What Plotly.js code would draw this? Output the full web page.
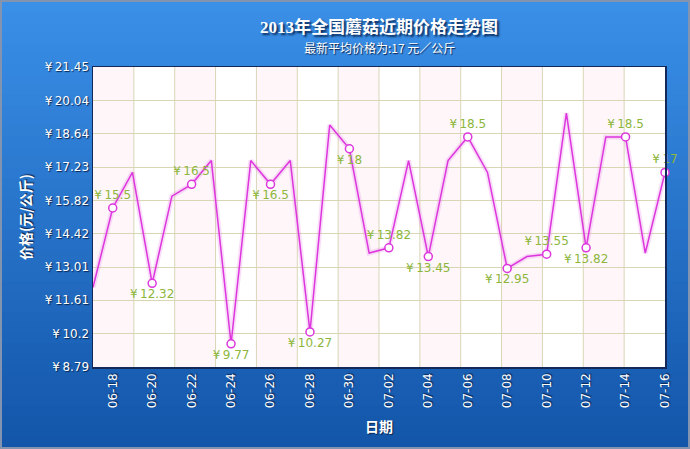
<!DOCTYPE html>
<html>
<head>
<meta charset="utf-8">
<script src="https://cdn.plot.ly/plotly-3.0.1.min.js"></script>
<style>
  body { margin: 0; padding: 0; }
  #graph { width: 690px; height: 449px; }
</style>
</head>
<body>
<div id="graph"></div>
<script>
var dates = ['06-17', '06-18', '06-19', '06-20', '06-21', '06-22', '06-23', '06-24', '06-25', '06-26',
             '06-27', '06-28', '06-29', '06-30', '07-01', '07-02', '07-03', '07-04', '07-05', '07-06',
             '07-07', '07-08', '07-09', '07-10', '07-11', '07-12', '07-13', '07-14', '07-15', '07-16'];
var prices = [12.15, 15.5, 17, 12.32, 16, 16.5, 17.5, 9.77, 17.5, 16.5,
              17.5, 10.27, 19, 18, 13.6, 13.82, 17.5, 13.45, 17.5, 18.5,
              17, 12.95, 13.45, 13.55, 19.5, 13.82, 18.5, 18.5, 13.6, 17];

// dates that get a marker, label and x tick
var labelDates = ['06-18', '06-20', '06-22', '06-24', '06-26', '06-28', '06-30', '07-02',
                  '07-04', '07-06', '07-08', '07-10', '07-12', '07-14', '07-16'];
var labelPos = ['top', 'bottom', 'top', 'bottom', 'bottom', 'bottom', 'bottom', 'top',
                'bottom', 'top', 'bottom', 'top', 'bottom', 'top', 'top'];

var yTicks = [8.79, 10.2, 11.61, 13.01, 14.42, 15.82, 17.23, 18.64, 20.04, 21.45];

var lineColor = '#dc36dc';
var labelColor = '#8db63c';
var shadow = '1px 1px 1px #0b2550';

var labelPrices = labelDates.map(function (d) { return prices[dates.indexOf(d)]; });

var glow = {
  x: dates, y: prices,
  mode: 'lines', type: 'scatter',
  line: { color: 'rgba(235,140,235,0.3)', width: 5 },
  hoverinfo: 'skip', showlegend: false
};

var line = {
  x: dates, y: prices,
  mode: 'lines', type: 'scatter',
  line: { color: lineColor, width: 1.5 },
  showlegend: false
};

var points = {
  x: labelDates, y: labelPrices,
  mode: 'markers+text', type: 'scatter',
  marker: { size: 8, color: '#ffffff', line: { color: lineColor, width: 1.5 } },
  text: labelPrices.map(function (v) { return '¥\u2009' + v; }),
  textposition: labelPos.map(function (p) { return p + ' center'; }),
  textfont: { family: 'DejaVu Sans', size: 12, color: labelColor },
  cliponaxis: false,
  showlegend: false
};

// blue background gradient, white plot area, faint pink columns, vertical grid
var shapes = [];
var strips = 45;
var stripH = 1.55 / strips;
for (var i = 0; i < strips; i++) {
  var f = i / (strips - 1);
  var r = Math.round(0x3b + (0x12 - 0x3b) * f);
  var g = Math.round(0x90 + (0x55 - 0x90) * f);
  var b = Math.round(0xe8 + (0xa9 - 0xe8) * f);
  var stripTop = 1.25 - i * stripH;
  shapes.push({
    type: 'rect', xref: 'paper', yref: 'paper', layer: 'below',
    x0: -0.2, x1: 1.1, y0: stripTop - stripH - 0.005, y1: stripTop,
    fillcolor: 'rgb(' + r + ',' + g + ',' + b + ')', line: { width: 0 }
  });
}
shapes.push({
  type: 'rect', xref: 'paper', yref: 'paper', layer: 'below',
  x0: 0, x1: 1, y0: 0, y1: 1, fillcolor: '#ffffff', line: { width: 0 }
});
var cols = 14;
for (var k = 0; k < cols; k += 2) {
  shapes.push({
    type: 'rect', xref: 'paper', yref: 'paper', layer: 'below',
    x0: k / cols, x1: (k + 1) / cols, y0: 0, y1: 1,
    fillcolor: '#fef6f9', line: { width: 0 }
  });
}
for (var k = 1; k < cols; k++) {
  shapes.push({
    type: 'line', xref: 'paper', yref: 'paper', layer: 'below',
    x0: k / cols, x1: k / cols, y0: 0, y1: 1,
    line: { color: '#d9d6b6', width: 1 }
  });
}
// outer frame
shapes.push({
  type: 'rect', xref: 'paper', yref: 'paper', layer: 'above',
  x0: -92 / 572, x1: 1 + 24 / 572, y0: -81 / 300, y1: 1 + 66 / 300,
  line: { color: '#8294b0', width: 2 }
});

var layout = {
  width: 690,
  height: 449,
  autosize: false,
  margin: { l: 93, r: 25, t: 67, b: 82, pad: 0 },
  paper_bgcolor: '#2a78d2',
  plot_bgcolor: 'rgba(0,0,0,0)',
  title: {
    text: '<b>2013年全国蘑菇近期价格走势图</b>',
    font: { family: 'Liberation Serif, Noto Sans CJK SC', size: 17, color: '#ffffff', shadow: '2px 2px 2px #0a2a5a' },
    xref: 'paper', x: 0.5, xanchor: 'center',
    yref: 'container', y: 1 - 27 / 449, yanchor: 'middle'
  },
  annotations: [{
    text: '最新平均价格为:17 元／公斤',
    xref: 'paper', yref: 'paper', x: 0.5, y: 1 + 20 / 300,
    xanchor: 'center', yanchor: 'middle', showarrow: false,
    font: { family: 'Noto Sans CJK SC', size: 12, color: '#ffffff', shadow: shadow }
  }],
  xaxis: {
    type: 'category',
    range: [0, dates.length - 1],
    tickvals: labelDates,
    ticktext: labelDates,
    tickangle: -90,
    tickfont: { family: 'DejaVu Sans', size: 12, color: '#ffffff', shadow: shadow },
    showgrid: false,
    zeroline: false,
    showline: true,
    linecolor: '#12295a',
    linewidth: 1.5,
    mirror: true,
    ticks: '',
    automargin: false,
    title: {
      text: '<b>日期</b>',
      standoff: 15,
      font: { family: 'Noto Sans CJK SC', size: 14, color: '#ffffff', shadow: shadow }
    }
  },
  yaxis: {
    range: [yTicks[0], yTicks[yTicks.length - 1]],
    tickvals: yTicks,
    ticktext: yTicks.map(function (v) { return '¥\u2009' + v; }),
    tickfont: { family: 'DejaVu Sans', size: 12, color: '#ffffff', shadow: shadow },
    showgrid: true,
    gridcolor: '#d9d6b6',
    gridwidth: 1,
    zeroline: false,
    showline: true,
    linecolor: '#12295a',
    linewidth: 1.5,
    mirror: true,
    ticks: '',
    automargin: false,
    title: {
      text: '<b>价格(元/公斤)</b>',
      standoff: 10,
      font: { family: 'Noto Sans CJK SC', size: 14, color: '#ffffff', shadow: shadow }
    }
  },
  shapes: shapes,
  showlegend: false
};

Plotly.newPlot('graph', [glow, line, points], layout, { displayModeBar: false, staticPlot: true });
</script>
</body>
</html>
